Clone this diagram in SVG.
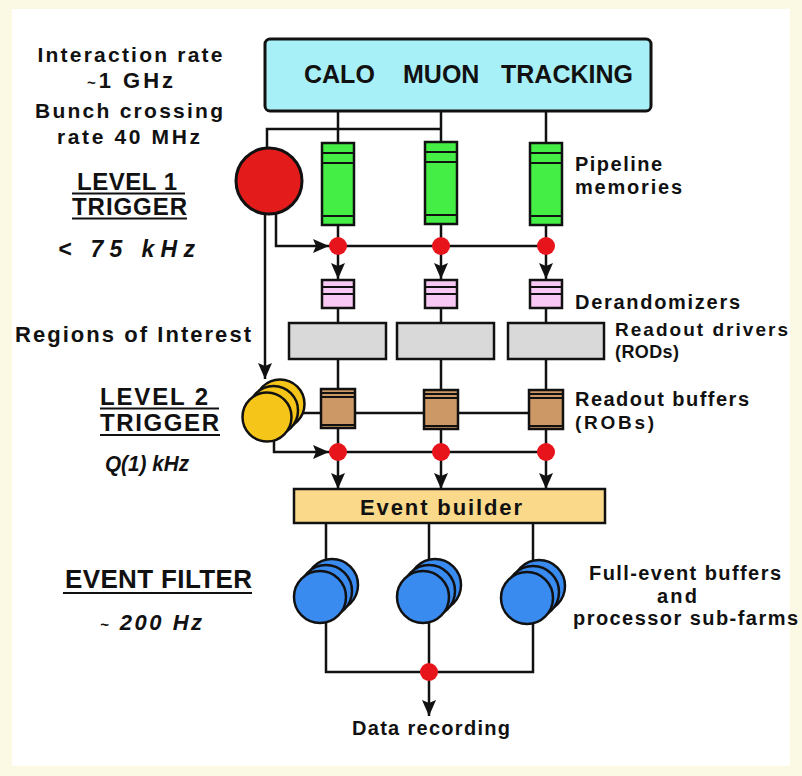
<svg xmlns="http://www.w3.org/2000/svg" width="802" height="776" viewBox="0 0 802 776">
<defs>
<style>
text{font-family:"Liberation Sans",Arial,sans-serif;font-weight:bold;fill:#111}
.ln{fill:none;stroke:#111;stroke-width:2.5}
.box{stroke:#111;stroke-width:2.5}
.thin{fill:none;stroke:#111;stroke-width:2}
.pipe{fill:#44EE44}
.der{fill:#F8C8F4}
.rod{fill:#D9D9D9}
.rob{fill:#CC9966}
.dot{fill:#E8141C}
.yel{fill:#F6C51A;stroke:#111;stroke-width:2.5}
.blu{fill:#3A8BEF;stroke:#111;stroke-width:2.5}
.it{font-style:italic}
.ul{stroke:#111;stroke-width:2}
</style>
<marker id="ah" markerUnits="userSpaceOnUse" markerWidth="16" markerHeight="14" viewBox="0 0 16 14" refX="16" refY="7" orient="auto"><path d="M0,0 L16,7 L0,14 L3,7 z" fill="#111"/></marker>
</defs>
<rect x="0" y="0" width="802" height="776" fill="#FBF8E4"/>
<rect x="12" y="9" width="778" height="757" fill="#FFFFFF"/>

<!-- connectors -->
<g id="connectors">
  <path class="ln" d="M338,111 V143 M441,111 V142 M546,111 V143"/>
  <path class="ln" d="M267,148 V129 H441"/>
  <path class="ln" d="M338,225 V246 M441,225 V246 M546,225 V246"/>
  <path class="ln" d="M276,213 V246 H329" marker-end="url(#ah)"/>
  <path class="ln" d="M329,246 H546"/>
  <path class="ln" d="M338,246 V279" marker-end="url(#ah)"/>
  <path class="ln" d="M441,246 V279" marker-end="url(#ah)"/>
  <path class="ln" d="M546,246 V279" marker-end="url(#ah)"/>
  <path class="ln" d="M338,308 V323 M441,308 V323 M546,308 V323"/>
  <path class="ln" d="M338,359 V389 M441,359 V389 M546,359 V389"/>
  <path class="ln" d="M265,208 V379" marker-end="url(#ah)"/>
  <path class="ln" d="M298,413 H546"/>
  <path class="ln" d="M338,428 V452 M441,428 V452 M546,428 V452"/>
  <path class="ln" d="M274,440 V452 H329" marker-end="url(#ah)"/>
  <path class="ln" d="M329,452 H546"/>
  <path class="ln" d="M338,452 V489" marker-end="url(#ah)"/>
  <path class="ln" d="M441,452 V489" marker-end="url(#ah)"/>
  <path class="ln" d="M546,452 V489" marker-end="url(#ah)"/>
  <path class="ln" d="M326,523 V672 H533 V523 M429,523 V672"/>
  <path class="ln" d="M429,672 V716" marker-end="url(#ah)"/>
</g>

<g id="detectors">
  <rect x="265" y="39" width="386" height="72" rx="5" fill="#A8F0F8" stroke="#111" stroke-width="3"/>
  <text x="304" y="83" font-size="25">CALO</text>
  <text x="403" y="83" font-size="25">MUON</text>
  <text x="501" y="83" font-size="25">TRACKING</text>
</g>

<g id="level1-trigger">
  <circle cx="269" cy="181" r="33" fill="#E31B1B" stroke="#111" stroke-width="3"/>
</g>

<g id="pipelines">
  <g id="pipeline-1"><rect class="pipe box" x="322" y="143" width="32" height="82"/><path class="thin" d="M322,153 H354 M322,163 H354 M322,216 H354"/></g>
  <g id="pipeline-2"><rect class="pipe box" x="425" y="142" width="32" height="82"/><path class="thin" d="M425,152 H457 M425,162 H457 M425,215 H457"/></g>
  <g id="pipeline-3"><rect class="pipe box" x="530" y="143" width="32" height="82"/><path class="thin" d="M530,153 H562 M530,163 H562 M530,216 H562"/></g>
</g>

<g id="l1-dots">
  <circle class="dot" cx="338" cy="246" r="9"/>
  <circle class="dot" cx="441" cy="246" r="9"/>
  <circle class="dot" cx="546" cy="246" r="9"/>
</g>

<g id="derandomizers">
  <g id="derand-1"><rect class="der box" x="322" y="280" width="32" height="28"/><path class="thin" d="M322,287 H354 M322,294 H354"/></g>
  <g id="derand-2"><rect class="der box" x="425" y="280" width="32" height="28"/><path class="thin" d="M425,287 H457 M425,294 H457"/></g>
  <g id="derand-3"><rect class="der box" x="530" y="280" width="32" height="28"/><path class="thin" d="M530,287 H562 M530,294 H562"/></g>
</g>

<g id="rods">
  <rect id="rod-1" class="rod box" x="289" y="323" width="97" height="36"/>
  <rect id="rod-2" class="rod box" x="397" y="323" width="97" height="36"/>
  <rect id="rod-3" class="rod box" x="508" y="323" width="96" height="36"/>
</g>

<g id="level2-trigger">
  <circle class="yel" cx="280" cy="404" r="24.5"/>
  <circle class="yel" cx="273.5" cy="410.5" r="24.5"/>
  <circle class="yel" cx="267" cy="417" r="24.5"/>
</g>

<g id="robs">
  <g id="rob-1"><rect class="rob box" x="321" y="389" width="34" height="39"/><path class="thin" d="M321,393 H355 M321,397 H355 M321,425 H355"/></g>
  <g id="rob-2"><rect class="rob box" x="424" y="390" width="34" height="39"/><path class="thin" d="M424,394 H458 M424,398 H458 M424,426 H458"/></g>
  <g id="rob-3"><rect class="rob box" x="529" y="390" width="34" height="39"/><path class="thin" d="M529,394 H563 M529,398 H563 M529,426 H563"/></g>
</g>

<g id="l2-dots">
  <circle class="dot" cx="338" cy="452" r="9"/>
  <circle class="dot" cx="441" cy="452" r="9"/>
  <circle class="dot" cx="546" cy="452" r="9"/>
</g>

<g id="event-builder">
  <rect class="box" x="294" y="489" width="311" height="34" fill="#FAD98A"/>
  <text x="441" y="515" font-size="22" text-anchor="middle" textLength="162" lengthAdjust="spacing">Event builder</text>
</g>

<g id="event-filter">
  <g id="ef-1"><circle class="blu" cx="332" cy="585" r="26"/><circle class="blu" cx="326" cy="591" r="26"/><circle class="blu" cx="320" cy="597" r="26"/></g>
  <g id="ef-2"><circle class="blu" cx="435" cy="585" r="26"/><circle class="blu" cx="429" cy="591" r="26"/><circle class="blu" cx="423" cy="597" r="26"/></g>
  <g id="ef-3"><circle class="blu" cx="539" cy="586" r="26"/><circle class="blu" cx="533" cy="592" r="26"/><circle class="blu" cx="527" cy="598" r="26"/></g>
</g>

<g id="output-dot">
  <circle class="dot" cx="429" cy="672" r="9"/>
</g>

<g id="labels">
  <text x="130" y="62" font-size="21" text-anchor="middle" textLength="185" lengthAdjust="spacing">Interaction rate</text>
  <text x="130" y="88" font-size="22" text-anchor="middle" textLength="86" lengthAdjust="spacing"><tspan font-size="15">~</tspan>1 GHz</text>
  <text x="129" y="118" font-size="21" text-anchor="middle" textLength="188" lengthAdjust="spacing">Bunch crossing</text>
  <text x="128.5" y="144" font-size="21" text-anchor="middle" textLength="143" lengthAdjust="spacing">rate 40 MHz</text>
  <text x="127" y="190" font-size="24" text-anchor="middle" textLength="100" lengthAdjust="spacing">LEVEL 1</text>
  <line class="ul" x1="72" y1="193.5" x2="185" y2="193.5"/>
  <text x="129.5" y="215" font-size="24" text-anchor="middle" textLength="115" lengthAdjust="spacing">TRIGGER</text>
  <line class="ul" x1="72" y1="218.5" x2="187" y2="218.5"/>
  <text class="it" x="58" y="257" font-size="23" textLength="137" lengthAdjust="spacing">&lt; 75 kHz</text>
  <text x="15" y="342" font-size="22" textLength="236" lengthAdjust="spacing">Regions of Interest</text>
  <text x="154" y="405" font-size="24" text-anchor="middle" textLength="108" lengthAdjust="spacing">LEVEL 2</text>
  <line class="ul" x1="100" y1="408.5" x2="219" y2="408.5"/>
  <text x="159.5" y="431" font-size="24" text-anchor="middle" textLength="119" lengthAdjust="spacing">TRIGGER</text>
  <line class="ul" x1="100" y1="435" x2="220" y2="435"/>
  <text class="it" x="105" y="471" font-size="22" textLength="84" lengthAdjust="spacingAndGlyphs">Q(1) kHz</text>
  <text x="65" y="588" font-size="26" textLength="187" lengthAdjust="spacing">EVENT FILTER</text>
  <line class="ul" x1="63" y1="593" x2="252" y2="593"/>
  <text class="it" x="100" y="630" font-size="22" textLength="102" lengthAdjust="spacing"><tspan font-size="15">~</tspan> 200 Hz</text>
  <text x="575" y="171" font-size="20" textLength="87" lengthAdjust="spacing">Pipeline</text>
  <text x="575" y="194" font-size="20" textLength="107" lengthAdjust="spacing">memories</text>
  <text x="575" y="309" font-size="20" textLength="165" lengthAdjust="spacing">Derandomizers</text>
  <text x="615" y="336" font-size="19" textLength="173" lengthAdjust="spacing">Readout drivers</text>
  <text x="615" y="358" font-size="18" textLength="64" lengthAdjust="spacing">(RODs)</text>
  <text x="575" y="406" font-size="20" textLength="174" lengthAdjust="spacing">Readout buffers</text>
  <text x="575" y="429" font-size="19" textLength="79" lengthAdjust="spacing">(ROBs)</text>
  <text x="685" y="580" font-size="20" text-anchor="middle" textLength="192" lengthAdjust="spacing">Full-event buffers</text>
  <text x="677" y="603" font-size="20" text-anchor="middle" textLength="40" lengthAdjust="spacing">and</text>
  <text x="685.5" y="625" font-size="20" text-anchor="middle" textLength="225" lengthAdjust="spacing">processor sub-farms</text>
  <text x="431" y="735" font-size="20" text-anchor="middle" textLength="158" lengthAdjust="spacing">Data recording</text>
</g>
</svg>
